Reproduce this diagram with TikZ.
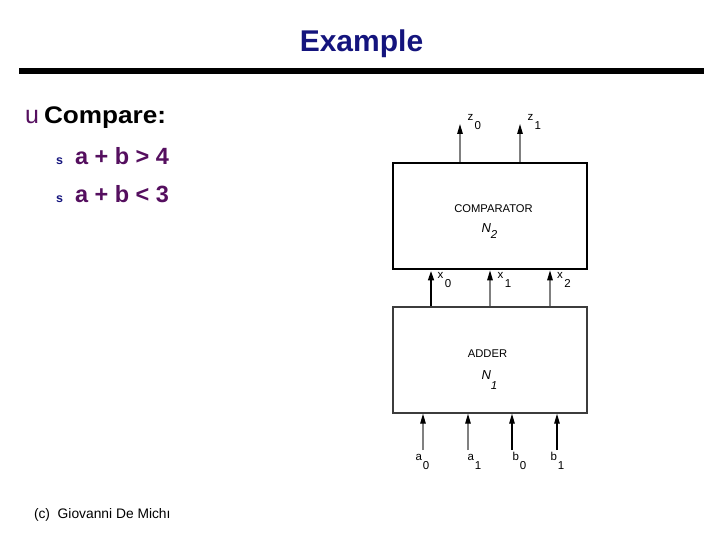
\documentclass[tikz,border=0pt]{standalone}
\usepackage{fontspec}
\setmainfont{Liberation Sans}
\usetikzlibrary{arrows.meta}
\definecolor{navy}{RGB}{20,20,125}
\definecolor{plum}{RGB}{85,15,95}
\definecolor{wire}{RGB}{128,128,128}
\definecolor{boxgray}{RGB}{60,60,60}
\newcommand{\sublab}[3]{#1\kern#3\raisebox{-9pt}{#2}}
\begin{document}
\begin{tikzpicture}[x=1pt,y=-1pt,
  txt/.style={inner sep=0pt, outer sep=0pt},
  lab/.style={txt, anchor=base west, font=\fontsize{11.5}{13}\selectfont},
  boxtxt/.style={txt, font=\fontsize{11.2}{13}\selectfont},
  wirearr/.style={draw=wire, line width=1.3pt, -{Triangle[length=10pt,width=5.5pt,color=black]}},
  darkarr/.style={draw=black, line width=1.3pt, -{Triangle[length=10pt,width=5.5pt,color=black]}},
  thickarr/.style={draw=black, line width=2.6pt, -{Triangle[length=10pt,width=5.5pt,color=black]}},
  cmpbox/.style={draw=black, line width=2.6pt, minimum width=194pt, minimum height=106pt, inner sep=0pt},
  addbox/.style={draw=boxgray, line width=1.4pt, minimum width=194pt, minimum height=106pt, inner sep=0pt},
  bul/.style={txt, anchor=base west, text=navy, font=\bfseries\fontsize{12.5}{14}\selectfont},
  cond/.style={txt, anchor=base west, text=plum, font=\bfseries\fontsize{23.5}{28}\selectfont}]
\useasboundingbox (0,0) rectangle (720,540);

% title and rule
\node[txt, anchor=base, text=navy, font=\bfseries\fontsize{30}{36}\selectfont] (title) at (361.5,52) {Example};
\coordinate (ruleL) at (19,71.5);
\coordinate (ruleR) at (704,71.5);
\draw[line width=6pt] (ruleL) -- (ruleR);

% bullets
\node[txt, anchor=base west, text=plum, font=\fontsize{25}{30}\selectfont] (ub) at (25,124) {u};
\node[txt, anchor=base west, font=\bfseries\fontsize{24}{28}\selectfont] (cmp) at (44,124) {\scalebox{1.09}[1]{Compare:}};
\node[bul] (s1) at (56,165) {s};
\node[cond] (c1) at (75,165) {a + b > 4};
\node[bul] (s2) at (56,203) {s};
\node[cond] (c2) at (75,203) {a + b < 3};

% footer
\node[txt, anchor=base west, font=\fontsize{13.8}{16}\selectfont] (foot) at (34,518) {(c)\ \ Giovanni De Michı};

% boxes
\node[cmpbox] (comp) at (490,216) {};
\node[addbox] (add) at (490,360) {};
\node[boxtxt, anchor=base] (comptxt) at (493.5,213) {COMPARATOR};
\node[txt, anchor=base west, font=\itshape\fontsize{13}{15}\selectfont] (n2) at (481.5,233) {N\raisebox{-6pt}{\fontsize{11.5}{13}\selectfont 2}};
\node[boxtxt, anchor=base] (addtxt) at (487.5,357) {ADDER};
\node[txt, anchor=base west, font=\itshape\fontsize{13}{15}\selectfont] (n1) at (481.5,379) {N\raisebox{-10.5pt}{\fontsize{11.5}{13}\selectfont 1}};

% outputs
\coordinate (z0t) at (460,124);
\coordinate (z1t) at (520,124);
\draw[wirearr] (comp.north -| z0t) -- (z0t);
\draw[wirearr] (comp.north -| z1t) -- (z1t);
\node[lab] (z0l) at (467.5,121) {\sublab{z}{0}{1.3pt}};
\node[lab] (z1l) at (527.5,121) {\sublab{z}{1}{1.3pt}};

% internal signals
\coordinate (x0c) at (431,288);
\coordinate (x1c) at (490,288);
\coordinate (x2c) at (550,288);
\draw[thickarr] (add.north -| x0c) -- (comp.south -| x0c);
\draw[wirearr] (add.north -| x1c) -- (comp.south -| x1c);
\draw[wirearr] (add.north -| x2c) -- (comp.south -| x2c);
\node[lab] (x0l) at (437.5,278) {\sublab{x}{0}{1.5pt}};
\node[lab] (x1l) at (497.5,278) {\sublab{x}{1}{1.5pt}};
\node[lab] (x2l) at (557,278) {\sublab{x}{2}{1.5pt}};

% inputs
\coordinate (a0b) at (423,450);
\coordinate (a1b) at (468,450);
\coordinate (b0b) at (512,450);
\coordinate (b1b) at (557,450);
\draw[wirearr] (a0b) -- (add.south -| a0b);
\draw[wirearr] (a1b) -- (add.south -| a1b);
\draw[darkarr] (b0b) -- (add.south -| b0b);
\draw[darkarr] (b1b) -- (add.south -| b1b);
\node[lab] (a0l) at (415.5,460) {\sublab{a}{0}{1pt}};
\node[lab] (a1l) at (467.5,460) {\sublab{a}{1}{1pt}};
\node[lab] (b0l) at (512.5,460) {\sublab{b}{0}{1pt}};
\node[lab] (b1l) at (550.5,460) {\sublab{b}{1}{1pt}};
\end{tikzpicture}
\end{document}
